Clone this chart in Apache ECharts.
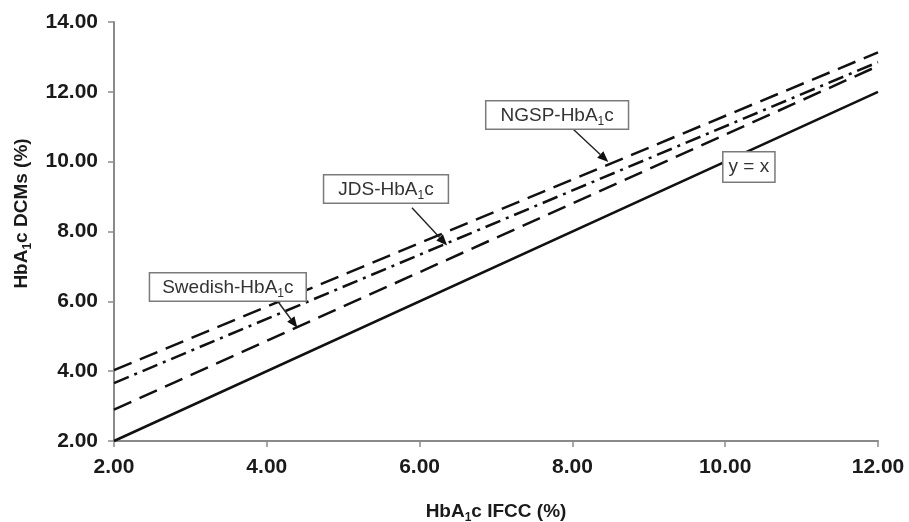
<!DOCTYPE html>
<html lang="en">
<head>
    <meta charset="UTF-8">
    <title>HbA1c</title>
    <script type="text/javascript" src="https://cdn.jsdelivr.net/npm/echarts@6/dist/echarts.min.js"></script>
    <style>
        body{margin:0;background:#fff;}
    </style>
</head>
<body>
<div id="chartmain" style="width:909px;height:522px"></div>
<script>
    // x values of the end points (IFCC %)
    var ifcc = [2, 12];
    // DCM values at those x values
    var ngsp = [4.03, 13.13];
    var jds = [3.66, 12.85];
    var swedish = [2.90, 12.74];
    var identity = [2, 12];
    var yTicks = [2, 4, 6, 8, 10, 12, 14];

    // annotation boxes: centre, arrow tail, arrow tip (data coords)
    var notes = [
        {text: 'NGSP-HbA{s|1}c', box: [7.80, 11.34], tail: [7.99, 10.97], tip: [8.47, 9.99], pad: [2, 14, 1, 14]},
        {text: 'JDS-HbA{s|1}c', box: [5.56, 9.22], tail: [5.90, 8.68], tip: [6.36, 7.60], pad: [2, 14, 1, 14]},
        {text: 'Swedish-HbA{s|1}c', box: [3.49, 6.41], tail: [4.15, 5.98], tip: [4.40, 5.24], pad: [2, 12, 1, 12]},
        {text: 'y = x', box: [10.31, 9.85], pad: [5, 5, 5, 5]}
    ];

    function pairs(xs, ys){
        var out = [];
        for(var i=0;i<xs.length;i++){
            out.push([xs[i], ys[i]]);
        }
        return out;
    }

    var font = 'Liberation Sans, Arial, sans-serif';
    var axisCommon = {
        type: 'value',
        min: 2,
        interval: 2,
        splitLine: {show: false},
        axisLine: {lineStyle: {color: '#8a8a8a', width: 2}},
        axisTick: {inside: false, length: 6, lineStyle: {color: '#8a8a8a', width: 1.5}},
        axisLabel: {
            color: '#1a1a1a', fontSize: 21, fontWeight: 'bold', fontFamily: font,
            formatter: function(v){ return v.toFixed(2); }
        },
        nameLocation: 'middle',
        nameTextStyle: {
            color: '#1a1a1a', fontSize: 19, fontWeight: 'bold', fontFamily: font,
            rich: {s: {fontSize: 12, fontWeight: 'bold', fontFamily: font, color: '#1a1a1a', verticalAlign: 'bottom', lineHeight: 24}}
        }
    };

    var lineColor = '#111';
    var option = {
        animation: false,
        backgroundColor: '#fff',
        grid: {left: 114, right: 31, top: 22, bottom: 81, containLabel: false, outerBoundsMode: 'none'},
        xAxis: Object.assign({}, axisCommon, {
            max: 12,
            name: 'HbA{s|1}c IFCC (%)',
            nameGap: 59,
            axisLabel: Object.assign({}, axisCommon.axisLabel, {margin: 16})
        }),
        yAxis: Object.assign({}, axisCommon, {
            max: yTicks[yTicks.length-1],
            name: 'HbA{s|1}c DCMs (%)',
            nameGap: 80,
            nameTextStyle: Object.assign({}, axisCommon.nameTextStyle, {padding: [0, 0, 0, 36]}),
            axisLabel: Object.assign({}, axisCommon.axisLabel, {margin: 16})
        }),
        series: [
            {name: 'NGSP', type: 'line', symbol: 'none', data: pairs(ifcc, ngsp),
                lineStyle: {color: lineColor, width: 2.5, type: [19, 9]}},
            {name: 'JDS', type: 'line', symbol: 'none', data: pairs(ifcc, jds),
                lineStyle: {color: lineColor, width: 2.5, type: [16, 6, 3, 6]}},
            {name: 'Swedish', type: 'line', symbol: 'none', data: pairs(ifcc, swedish),
                lineStyle: {color: lineColor, width: 2.5, type: [19, 9]}},
            {name: 'y = x', type: 'line', symbol: 'none', data: pairs(ifcc, identity),
                lineStyle: {color: lineColor, width: 2.5, type: 'solid'}}
        ]
    };

    var myChart = echarts.init(document.getElementById('chartmain'));
    myChart.setOption(option);

    // boxed labels with arrows
    var graphics = [];
    notes.forEach(function(n){
        var c = myChart.convertToPixel({gridIndex: 0}, n.box);
        if(n.tail){
            var a = myChart.convertToPixel({gridIndex: 0}, n.tail);
            var b = myChart.convertToPixel({gridIndex: 0}, n.tip);
            var dx = b[0]-a[0], dy = b[1]-a[1];
            var len = Math.sqrt(dx*dx+dy*dy);
            var ux = dx/len, uy = dy/len;
            var hl = 11, hw = 4.5;
            var bx = b[0]-ux*hl, by = b[1]-uy*hl;
            graphics.push({
                type: 'line', z: 10,
                shape: {x1: a[0], y1: a[1], x2: bx, y2: by},
                style: {stroke: '#222', lineWidth: 1.4}
            });
            graphics.push({
                type: 'polygon', z: 10,
                shape: {points: [[b[0], b[1]], [bx - uy*hw, by + ux*hw], [bx + uy*hw, by - ux*hw]]},
                style: {fill: '#111'}
            });
        }
        graphics.push({
            type: 'text', z: 20,
            x: c[0], y: c[1],
            style: {
                text: n.text,
                fill: '#333',
                font: '19px ' + font,
                align: 'center',
                verticalAlign: 'middle',
                backgroundColor: '#fff',
                borderColor: '#7a7a7a',
                borderWidth: 1.5,
                padding: n.pad,
                rich: {s: {fontSize: 12, fontFamily: font, fill: '#333', verticalAlign: 'bottom', lineHeight: 24}}
            }
        });
    });
    myChart.setOption({graphic: graphics});
</script>
</body>
</html>
